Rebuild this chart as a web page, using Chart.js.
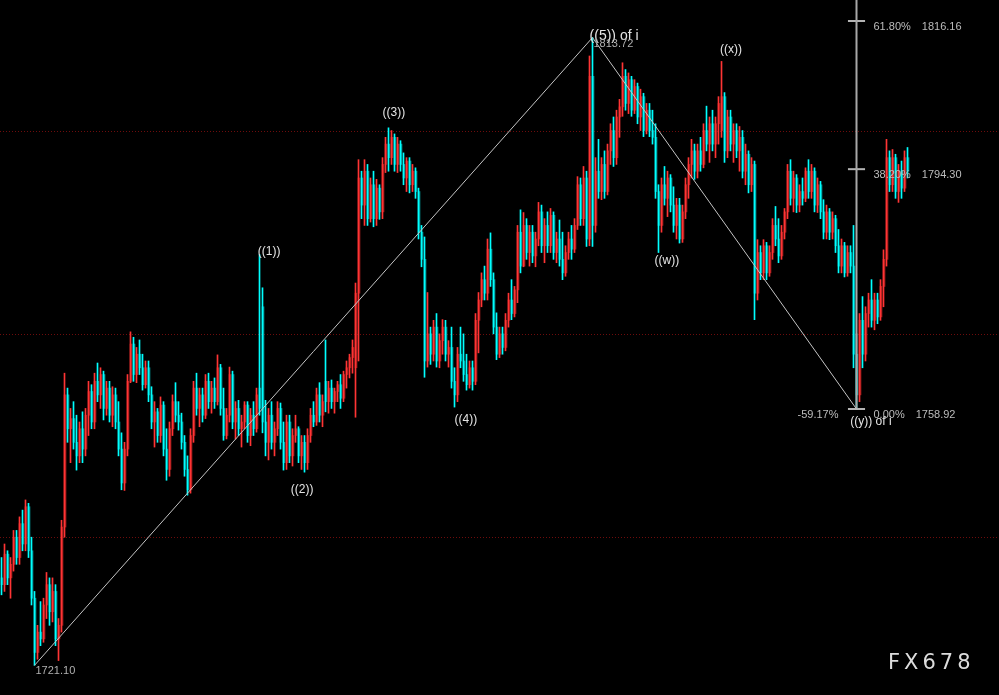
<!DOCTYPE html>
<html>
<head>
<meta charset="utf-8">
<title>Elliott wave chart</title>
<script src="https://cdn.jsdelivr.net/npm/chart.js@4.4.1/dist/chart.umd.min.js"></script>
<style>
    html, body { margin: 0; padding: 0; background: #000; }
    #wrap { width: 999px; height: 695px; position: relative; }
</style>
</head>
<body>
<div id="wrap"><canvas id="waveChart"></canvas></div>
<script>
// === Candle data (one candle every 3px) ===
const opens = [
    1734, 1733, 1737.5, 1734, 1736, 1740, 1737, 1742, 1739, 1744.5,
    1738, 1731, 1723, 1726, 1725, 1730, 1733, 1729, 1732, 1725,
    1727, 1741.5, 1761, 1756, 1757.5, 1754, 1752, 1756, 1753, 1758,
    1761.5, 1757, 1763, 1761, 1764, 1759, 1762, 1758, 1761, 1757,
    1753, 1748, 1753, 1763, 1768.5, 1764, 1767, 1765, 1762.5, 1765,
    1761, 1757, 1758.5, 1755, 1759.5, 1753, 1750, 1756, 1760, 1758,
    1757, 1754, 1750, 1747, 1755, 1762, 1759, 1761, 1758, 1763,
    1760, 1762, 1760, 1765, 1759, 1755, 1758, 1764, 1757, 1759,
    1756, 1757, 1759.5, 1755, 1758, 1756, 1762, 1774, 1757, 1754,
    1758, 1754, 1756, 1759, 1754, 1751, 1757, 1752, 1755, 1756,
    1752, 1754, 1751, 1755, 1758, 1757, 1761, 1758, 1763, 1760,
    1762, 1760, 1761.5, 1762.5, 1760.5, 1764, 1765, 1766.5, 1765, 1776,
    1793, 1789, 1794, 1787, 1792, 1787, 1791.5, 1788, 1795, 1798,
    1796, 1799, 1795, 1798, 1795, 1793, 1795.5, 1792, 1794, 1791,
    1785, 1781, 1766, 1770, 1767, 1771, 1766, 1769, 1771, 1767,
    1768, 1763, 1761, 1767, 1766, 1764, 1762.5, 1765, 1763, 1772,
    1775, 1778, 1776, 1782.5, 1778, 1771, 1767, 1770, 1768, 1772,
    1775, 1773, 1776.5, 1785, 1780, 1786, 1782, 1785, 1781.5, 1784,
    1788, 1783, 1786, 1783, 1787.5, 1782, 1784, 1781, 1779, 1782,
    1784, 1782.5, 1786, 1792, 1787, 1793, 1784, 1808, 1786, 1794,
    1791, 1795, 1791, 1797, 1800, 1796, 1802, 1803.5, 1808, 1804,
    1807.5, 1803, 1806.5, 1802, 1805, 1800, 1803, 1800, 1799, 1791,
    1786, 1792, 1790, 1793, 1789, 1786, 1789, 1784, 1788, 1792,
    1795, 1797, 1794, 1797, 1795, 1800, 1798, 1801, 1798, 1801,
    1800, 1805, 1797, 1802, 1798, 1800, 1797, 1799, 1794, 1796.5,
    1792, 1795, 1776, 1782, 1779, 1783, 1779, 1782, 1786, 1784,
    1781.5, 1785, 1788, 1794, 1790, 1793, 1789, 1791, 1790, 1794,
    1791, 1794, 1789, 1792, 1788, 1785, 1788, 1785, 1787, 1783,
    1780, 1783, 1779, 1782, 1780, 1767, 1761, 1772, 1767, 1773,
    1775, 1772, 1775, 1772.5, 1777, 1781, 1796, 1792, 1796, 1791,
    1794, 1791.5, 1796
];
const highs = [
    1737, 1739, 1738, 1737, 1741, 1741, 1743, 1744, 1745.5, 1745,
    1740, 1732, 1727, 1730.5, 1731, 1734.8, 1734, 1734, 1733, 1728,
    1742.5, 1764.2, 1762, 1759, 1760, 1758, 1757, 1758.5, 1759, 1763,
    1762.5, 1764.2, 1765.7, 1765, 1764.5, 1763, 1763, 1762.2, 1762, 1760,
    1755.4, 1754, 1764, 1770.3, 1769.5, 1768, 1769.1, 1767, 1766, 1766,
    1762.2, 1760, 1759, 1760.7, 1760, 1756, 1757, 1761, 1762.8, 1760,
    1758.3, 1755, 1752, 1756, 1763, 1764.2, 1762, 1762, 1764, 1764.2,
    1763, 1763.5, 1766.9, 1765.5, 1762, 1759, 1765.1, 1764.5, 1760, 1760.2,
    1758, 1760, 1760, 1759, 1760, 1762, 1781.7, 1776.8, 1760.2, 1759,
    1760, 1757, 1760, 1759.8, 1757, 1758, 1758, 1756, 1758, 1756.3,
    1755, 1755, 1756, 1759, 1760, 1762, 1762.8, 1761, 1769.1, 1763,
    1763.2, 1762, 1763, 1764, 1764.5, 1766, 1767, 1769.1, 1777.5, 1795.7,
    1794, 1795.7, 1795, 1793, 1794, 1792.8, 1792, 1796, 1799, 1800.4,
    1800, 1799.5, 1799, 1798.5, 1796.7, 1796, 1796, 1795, 1794.5, 1791.5,
    1786, 1784.3, 1776.1, 1771, 1772, 1773, 1770, 1772.1, 1772, 1769,
    1771, 1765, 1768, 1771, 1770, 1767, 1766, 1766, 1773, 1776.1,
    1779, 1780, 1784, 1784.9, 1779, 1773.1, 1771, 1771, 1773, 1776,
    1778, 1777, 1786, 1788.3, 1787.9, 1787, 1786, 1786, 1785, 1789.4,
    1789, 1787, 1788, 1788.5, 1788, 1785, 1786.8, 1785, 1783, 1785,
    1786, 1787, 1793.2, 1793, 1794.7, 1794, 1811, 1813.72, 1796, 1798.7,
    1796, 1797, 1798, 1801, 1802, 1803, 1804.6, 1810, 1809, 1808.5,
    1808, 1807.5, 1807, 1806.1, 1805.5, 1804, 1804, 1803, 1801, 1792,
    1793, 1794.7, 1794, 1793.5, 1791.7, 1790, 1790, 1789, 1793, 1796,
    1798.7, 1798, 1798, 1799, 1801, 1803.6, 1802, 1803, 1802, 1805,
    1810.2, 1805.6, 1803, 1803, 1801, 1801, 1800.6, 1800, 1798, 1797,
    1796, 1795.5, 1783.9, 1783, 1783.9, 1783.5, 1783, 1787, 1788.8, 1787,
    1786, 1788.5, 1795, 1795.7, 1794, 1793.5, 1792, 1793, 1794.5, 1795.7,
    1795, 1794.5, 1793, 1792.5, 1789.8, 1789, 1788.5, 1788, 1787.5, 1785.4,
    1784, 1783.5, 1783, 1783, 1786, 1770, 1773, 1775.5, 1774, 1776,
    1778, 1776, 1776, 1778, 1782.4, 1798.7, 1797, 1797.2, 1796.5, 1795,
    1795.5, 1797, 1797.5
];
const lows = [
    1731.5, 1732, 1733, 1731, 1735, 1736, 1736, 1738, 1738, 1737,
    1730, 1721.1, 1722, 1724, 1724.5, 1728, 1727, 1727.5, 1724, 1721.8,
    1726, 1740, 1754, 1751, 1753, 1749.9, 1751, 1751, 1752, 1755,
    1756, 1756, 1760, 1759, 1757.3, 1758, 1757, 1756.3, 1756, 1752,
    1747, 1746.9, 1752, 1762.8, 1763, 1762.8, 1764, 1761.7, 1762, 1760,
    1756, 1753.3, 1754, 1754, 1752, 1748.4, 1749, 1755, 1757, 1755.8,
    1753, 1749, 1746.2, 1746.5, 1754, 1758, 1756.3, 1757, 1757.5, 1759,
    1758.3, 1759, 1759.5, 1758, 1754.3, 1754.5, 1757, 1756, 1754.5, 1755,
    1753.3, 1756, 1754, 1753.5, 1755, 1755.5, 1758, 1755.4, 1752, 1751.4,
    1753, 1752, 1755, 1753, 1749.9, 1750, 1751, 1750.5, 1754, 1751,
    1750, 1749.6, 1750, 1754, 1756.3, 1756.5, 1757, 1756.3, 1758.5, 1758.3,
    1759, 1758.3, 1760, 1759, 1760, 1762, 1763.5, 1764.2, 1757.7, 1766,
    1787, 1786, 1786, 1786.5, 1785.8, 1786, 1786.9, 1787, 1793.8, 1794,
    1795, 1794, 1793.8, 1794, 1792, 1791, 1790.8, 1791, 1790, 1784,
    1779.9, 1763.6, 1765.1, 1765.5, 1766, 1765.1, 1765, 1767, 1766, 1765.1,
    1762, 1759.2, 1760, 1765, 1763, 1761.7, 1762, 1761.7, 1762.5, 1767.2,
    1774, 1775, 1775, 1777, 1770, 1766.2, 1766.5, 1767, 1767.5, 1771,
    1772.1, 1772.5, 1774.6, 1779, 1779.9, 1781, 1780, 1780.5, 1779.9, 1783,
    1782, 1780.5, 1782, 1782, 1781, 1780.5, 1780, 1778, 1778.5, 1781,
    1781, 1782, 1785.4, 1786, 1786, 1782.9, 1783, 1782.9, 1785, 1790,
    1789.8, 1790, 1790.5, 1795, 1794.7, 1795, 1799, 1802.1, 1803, 1802.5,
    1802.1, 1802.5, 1801, 1800, 1799.1, 1799.5, 1799.1, 1798, 1790, 1782,
    1785, 1789, 1787.3, 1788, 1785, 1784, 1783.4, 1783.5, 1787, 1790,
    1793, 1792.8, 1793, 1794, 1794.5, 1797, 1795.3, 1797, 1796, 1798,
    1799, 1795.3, 1796, 1797, 1795.3, 1796, 1794, 1793, 1792, 1790.8,
    1791, 1772.1, 1775, 1778, 1778, 1778, 1778.5, 1781, 1783, 1780.5,
    1781, 1784, 1787, 1789, 1788, 1787.9, 1788, 1789, 1789.5, 1790,
    1790, 1788, 1787.9, 1787, 1784, 1784, 1783.9, 1784, 1782, 1779,
    1779, 1778.4, 1778.5, 1779, 1765, 1758.92, 1760, 1765, 1766, 1771,
    1771, 1770.6, 1771.5, 1772, 1774, 1780, 1791, 1791, 1790, 1789.4,
    1790, 1791, 1793
];
const closes = [
    1733, 1737.5, 1734, 1736, 1740, 1737, 1742, 1739, 1744.5, 1738,
    1731, 1723, 1726, 1725, 1730, 1733, 1729, 1732, 1725, 1727,
    1741.5, 1761, 1756, 1757.5, 1754, 1752, 1756, 1753, 1758, 1761.5,
    1757, 1763, 1761, 1764, 1759, 1762, 1758, 1761, 1757, 1753,
    1748, 1753, 1763, 1768.5, 1764, 1767, 1765, 1762.5, 1765, 1761,
    1757, 1758.5, 1755, 1759.5, 1753, 1750, 1756, 1760, 1758, 1757,
    1754, 1750, 1747, 1755, 1762, 1759, 1761, 1758, 1763, 1760,
    1762, 1760, 1765, 1759, 1755, 1758, 1764, 1757, 1759, 1756,
    1757, 1759.5, 1755, 1758, 1756, 1761, 1759, 1757, 1754, 1758,
    1754, 1756, 1759, 1754, 1751, 1757, 1752, 1755, 1756, 1752,
    1754, 1751, 1755, 1758, 1757, 1761, 1758, 1760, 1760, 1762,
    1760, 1761.5, 1762.5, 1760.5, 1764, 1765, 1766.5, 1768, 1776, 1793,
    1789, 1794, 1787, 1792, 1787, 1791.5, 1788, 1795, 1798, 1796,
    1799, 1795, 1798, 1795, 1793, 1795.5, 1792, 1794, 1791, 1785,
    1781, 1766, 1770, 1767, 1771, 1766, 1769, 1771, 1767, 1768,
    1763, 1761, 1767, 1766, 1764, 1762.5, 1765, 1763, 1772, 1775,
    1778, 1776, 1782.5, 1778, 1771, 1767, 1770, 1768, 1772, 1775,
    1773, 1776.5, 1785, 1780, 1786, 1782, 1785, 1781.5, 1784, 1788,
    1783, 1786, 1783, 1787.5, 1782, 1784, 1781, 1779, 1782, 1784,
    1782.5, 1786, 1792, 1787, 1793, 1784, 1808, 1786, 1794, 1791,
    1795, 1791, 1797, 1800, 1796, 1802, 1803.5, 1808, 1804, 1807.5,
    1803, 1806.5, 1802, 1805, 1800, 1803, 1800, 1799, 1791, 1786,
    1792, 1790, 1793, 1789, 1786, 1789, 1784, 1788, 1792, 1795,
    1797, 1794, 1797, 1795, 1800, 1798, 1801, 1798, 1801, 1804,
    1805, 1797, 1802, 1798, 1800, 1797, 1799, 1794, 1796.5, 1792,
    1795, 1776, 1782, 1779, 1783, 1779, 1782, 1786, 1784, 1781.5,
    1785, 1788, 1794, 1790, 1793, 1789, 1791, 1790, 1794, 1791,
    1794, 1789, 1792, 1788, 1785, 1788, 1785, 1787, 1783, 1780,
    1783, 1779, 1782, 1780, 1767, 1761, 1772, 1767, 1773, 1775,
    1772, 1775, 1772.5, 1777, 1781, 1796, 1792, 1796, 1791, 1794,
    1791.5, 1796, 1794
];

// === Wave structure & levels ===
const waveStart = 11;     // start low, 1721.10
const wavePeak = 197;     // ((5)) of i high, 1813.72
const waveEnd = 285;      // ((y)) of i low, 1758.92
const fibRatios = [0.618, 0.382, 0];
const gridLevels = [1740, 1770, 1800];
const waveLabels = [
    { text: '((1))', idx: 89.2, price: 1782.1 },
    { text: '((2))', idx: 100.2, price: 1747.0 },
    { text: '((3))', idx: 130.8, price: 1802.6 },
    { text: '((4))', idx: 154.8, price: 1757.3 },
    { text: '((w))', idx: 221.8, price: 1780.8 },
    { text: '((x))', idx: 243.2, price: 1812.0 },
    { text: '((y)) of i', idx: 289.8, price: 1757.1 },
    { text: '((5)) of i', idx: 204.2, price: 1813.95, big: true },
];

const upWick = '#ff3434', downWick = '#00ffff';
const upBody = '#a01c1c', downBody = '#008f8f';
const isUp = closes.map((c, i) => c >= opens[i]);

const waveLength = highs[wavePeak] - lows[waveStart];
const fibLevels = fibRatios.map(r => lows[waveEnd] + r * waveLength);
const retrace = (lows[waveEnd] - highs[wavePeak]) / waveLength;

const Y_MIN = 1716.72, Y_MAX = 1819.26;
const TICK_HALF = 2.85;
const BODY_SHIFT = 1 / 6;   // half a pixel: body sits beside the wick, crisp

const lineStyle = { type: 'line', pointRadius: 0, fill: false, order: 0, tension: 0 };

const datasets = [
    { ...lineStyle, label: 'wave', borderColor: '#c4c4c4', borderWidth: 1,
      data: [
          { x: waveStart, y: lows[waveStart] },
          { x: wavePeak, y: highs[wavePeak] },
          { x: waveEnd, y: lows[waveEnd] },
      ] },
    { ...lineStyle, label: 'fibAxis', borderColor: '#a8a8a8', borderWidth: 2,
      data: [{ x: waveEnd, y: lows[waveEnd] }, { x: waveEnd, y: Y_MAX }] },
    ...fibLevels.map(lvl => ({
        ...lineStyle, label: 'fibTick', borderColor: '#b4b4b4', borderWidth: 2,
        data: [{ x: waveEnd - TICK_HALF, y: lvl }, { x: waveEnd + TICK_HALF, y: lvl }]
    })),
    { type: 'bar', label: 'wick', order: 1, grouped: false, barThickness: 1,
      data: highs.map((h, i) => ({ x: i, y: [lows[i], h] })),
      backgroundColor: isUp.map(u => u ? upWick : downWick) },
    { type: 'bar', label: 'body', order: 2, grouped: false, barThickness: 2,
      data: opens.map((o, i) => ({ x: i + BODY_SHIFT, y: [o, closes[i]] })),
      backgroundColor: isUp.map(u => u ? upBody : downBody) },
];

// === Background, dotted grid and text ===
const decorPlugin = {
    id: 'decor',
    beforeDraw(chart) {
        const { ctx, width, height } = chart;
        ctx.save();
        ctx.fillStyle = '#000';
        ctx.fillRect(0, 0, width, height);
        ctx.restore();
    },
    beforeDatasetsDraw(chart) {
        const { ctx, chartArea, scales } = chart;
        ctx.save();
        ctx.strokeStyle = '#6e0c0c';
        ctx.lineWidth = 1;
        ctx.setLineDash([1, 2]);
        gridLevels.forEach(v => {
            const y = Math.round(scales.y.getPixelForValue(v)) + 0.5;
            ctx.beginPath();
            ctx.moveTo(chartArea.left, y);
            ctx.lineTo(chartArea.right, y);
            ctx.stroke();
        });
        ctx.restore();
    },
    afterDatasetsDraw(chart) {
        const { ctx, scales } = chart;
        const xs = scales.x, ys = scales.y;
        ctx.save();
        ctx.textBaseline = 'middle';

        // wave labels
        waveLabels.forEach(l => {
            ctx.font = l.big ? '14px "Liberation Sans", Arial, sans-serif'
                             : '12px "Liberation Sans", Arial, sans-serif';
            ctx.fillStyle = '#e4e4e4';
            ctx.textAlign = 'center';
            ctx.fillText(l.text, xs.getPixelForValue(l.idx), ys.getPixelForValue(l.price));
        });

        // price tags at wave extremes
        ctx.font = '11px "Liberation Sans", Arial, sans-serif';
        ctx.fillStyle = '#b0b0b0';
        ctx.textAlign = 'left';
        ctx.fillText(lows[waveStart].toFixed(2),
            xs.getPixelForValue(waveStart) + 1, ys.getPixelForValue(lows[waveStart]) + 6);
        ctx.fillText(highs[wavePeak].toFixed(2),
            xs.getPixelForValue(wavePeak) + 1, ys.getPixelForValue(highs[wavePeak]) + 6);

        // fibonacci labels
        const fx = xs.getPixelForValue(waveEnd);
        ctx.fillStyle = '#bcbcbc';
        fibLevels.forEach((lvl, k) => {
            const y = ys.getPixelForValue(lvl) + 6;
            const pct = (fibRatios[k] * 100).toFixed(2) + '%';
            ctx.textAlign = 'left';
            ctx.fillText(pct, fx + 17, y);
            const w = ctx.measureText(pct).width;
            ctx.fillText(lvl.toFixed(2), fx + 17 + w + 11, y);
        });
        ctx.textAlign = 'right';
        ctx.fillText((retrace * 100).toFixed(2) + '%', fx - 18, ys.getPixelForValue(lows[waveEnd]) + 6);

        // watermark
        ctx.font = '21px "DejaVu Sans", sans-serif';
        ctx.fillStyle = '#dcdcdc';
        ctx.textAlign = 'left';
        ctx.letterSpacing = '4px';
        ctx.fillText('FX678', 888, 664);
        ctx.restore();
    }
};

document.addEventListener('DOMContentLoaded', () => {
    const ctx = document.getElementById('waveChart').getContext('2d');
    new Chart(ctx, {
        type: 'bar',
        data: { datasets },
        options: {
            responsive: true,
            maintainAspectRatio: false,
            animation: false,
            events: [],
            layout: { padding: 0 },
            plugins: {
                legend: { display: false },
                tooltip: { enabled: false },
            },
            scales: {
                x: { type: 'linear', min: -0.5, max: 332.5, display: false, offset: false },
                y: { min: Y_MIN, max: Y_MAX, display: false },
            },
        },
        plugins: [decorPlugin],
    });
});
</script>
</body>
</html>
